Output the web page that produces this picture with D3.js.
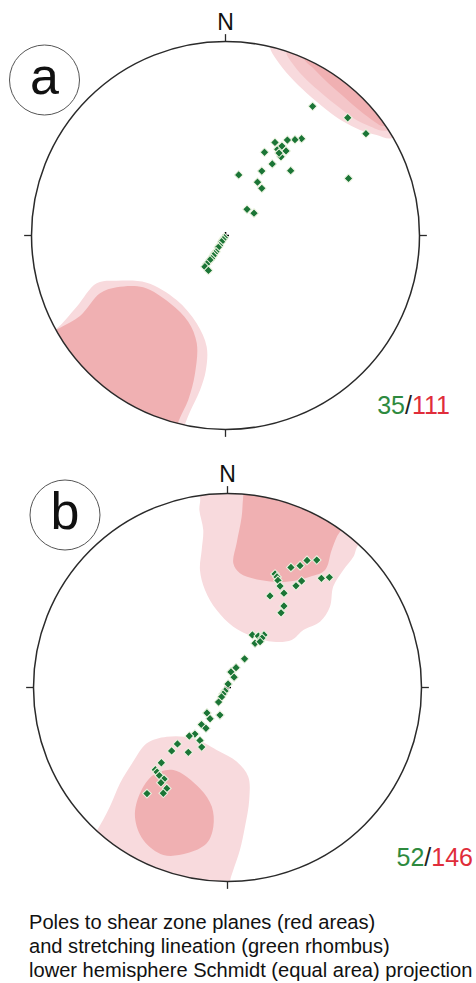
<!DOCTYPE html>
<html>
<head>
<meta charset="utf-8">
<script src="https://cdn.jsdelivr.net/npm/d3@7"></script>
<style>
  html, body { margin: 0; padding: 0; background: #fff; }
  svg { display: block; }
  text { font-family: "Liberation Sans", Arial, sans-serif; }
</style>
</head>
<body>
<svg id="chart" width="476" height="983"></svg>
<script>
// Stereonet coordinates: east (x) and north (y) in units of the primitive circle radius,
// lower-hemisphere equal-area (Schmidt) projection.

// ---- Stereonet a ----
const lineationA = [
  [0.449, 0.666], [0.630, 0.607], [0.724, 0.525], [0.634, 0.294], [0.392, 0.499],
  [0.358, 0.494], [0.319, 0.492], [0.255, 0.480], [0.269, 0.444], [0.291, 0.461],
  [0.312, 0.436], [0.286, 0.406], [0.276, 0.425], [0.201, 0.429], [0.241, 0.369],
  [0.336, 0.334], [0.187, 0.332], [0.068, 0.312], [0.165, 0.275], [0.187, 0.243],
  [0.111, 0.135], [0.147, 0.115], [-0.006, -0.011], [-0.013, -0.021], [-0.020, -0.032],
  [-0.031, -0.052], [-0.037, -0.061], [-0.049, -0.084], [-0.057, -0.093], [-0.063, -0.104],
  [-0.072, -0.119], [-0.080, -0.126], [-0.097, -0.147], [-0.106, -0.161], [-0.088, -0.180]
];
const polesA_NE_low = [
  [0.229, 0.973], [0.264, 0.905], [0.332, 0.819], [0.419, 0.733], [0.522, 0.647],
  [0.607, 0.587], [0.693, 0.544], [0.779, 0.518], [0.857, 0.501],
  [1.0, 0.6], [0.6, 1.0], [0.25, 1.05]
];
const polesA_NE_mid = [
  [0.31, 0.95], [0.35, 0.88], [0.42, 0.80], [0.50, 0.73], [0.58, 0.665],
  [0.66, 0.605], [0.74, 0.565], [0.83, 0.54],
  [1.0, 0.62], [0.62, 1.0], [0.32, 1.05]
];
const polesA_NE_high = [
  [0.40, 0.92], [0.46, 0.855], [0.53, 0.785], [0.61, 0.715], [0.69, 0.645],
  [0.77, 0.585], [0.81, 0.565],
  [1.0, 0.64], [0.66, 0.98], [0.42, 1.04]
];
const polesA_SW_low = [
  [-0.879, -0.487], [-0.767, -0.367], [-0.664, -0.246], [-0.561, -0.233], [-0.406, -0.243],
  [-0.252, -0.332], [-0.148, -0.453], [-0.097, -0.573], [-0.101, -0.693], [-0.131, -0.796],
  [-0.183, -0.908], [-0.209, -0.973],
  [-0.25, -1.1], [-0.75, -0.85], [-1.0, -0.55]
];
const polesA_SW_high = [
  [-0.857, -0.478], [-0.750, -0.415], [-0.647, -0.298], [-0.561, -0.267], [-0.424, -0.267],
  [-0.286, -0.349], [-0.192, -0.444], [-0.148, -0.556], [-0.157, -0.710], [-0.192, -0.848],
  [-0.243, -0.960],
  [-0.28, -1.1], [-0.75, -0.87], [-1.0, -0.56]
];
const countsA = [35, 111];

// ---- Stereonet b ----
const lineationB = [
  [0.460, 0.657], [0.410, 0.655], [0.374, 0.628], [0.327, 0.619], [0.245, 0.585],
  [0.255, 0.570], [0.260, 0.552], [0.271, 0.523], [0.291, 0.486], [0.219, 0.472],
  [0.353, 0.524], [0.382, 0.549], [0.484, 0.563], [0.525, 0.568], [0.291, 0.420],
  [0.276, 0.385], [0.128, 0.271], [0.159, 0.265], [0.188, 0.271], [0.178, 0.255],
  [0.142, 0.228], [0.168, 0.236], [0.088, 0.148], [0.044, 0.102], [0.018, 0.080],
  [0.034, 0.053], [0.003, 0.018], [-0.013, -0.018], [-0.023, -0.034], [-0.031, -0.049],
  [-0.046, -0.075], [-0.106, -0.131], [-0.039, -0.142], [-0.090, -0.161], [-0.134, -0.191],
  [-0.111, -0.210], [-0.168, -0.240], [-0.197, -0.250], [-0.142, -0.273], [-0.133, -0.307],
  [-0.202, -0.334], [-0.258, -0.291], [-0.288, -0.327], [-0.341, -0.388], [-0.372, -0.424],
  [-0.363, -0.436], [-0.351, -0.454], [-0.327, -0.472], [-0.343, -0.491], [-0.313, -0.520],
  [-0.331, -0.545], [-0.415, -0.547]
];
const polesB_N_low = [
  [-0.142, 0.984], [-0.145, 0.915], [-0.125, 0.812], [-0.133, 0.709], [-0.142, 0.606],
  [-0.116, 0.503], [-0.056, 0.399], [0.030, 0.313], [0.133, 0.262], [0.236, 0.236],
  [0.331, 0.245], [0.391, 0.296], [0.477, 0.339], [0.528, 0.416], [0.545, 0.520],
  [0.597, 0.606], [0.649, 0.674], [0.674, 0.735],
  [0.8, 0.85], [0.3, 1.15], [-0.2, 1.1]
];
const polesB_N_high = [
  [0.081, 0.984], [0.073, 0.880], [0.047, 0.743], [0.030, 0.640], [0.064, 0.589],
  [0.168, 0.554], [0.305, 0.545], [0.425, 0.571], [0.503, 0.606], [0.537, 0.709],
  [0.580, 0.803],
  [0.7, 0.9], [0.1, 1.1]
];
const polesB_S_low = [
  [-0.68, -0.75], [-0.606, -0.614], [-0.554, -0.494], [-0.486, -0.382], [-0.416, -0.288],
  [-0.313, -0.254], [-0.176, -0.262], [-0.056, -0.322], [0.047, -0.382], [0.107, -0.460],
  [0.112, -0.580], [0.090, -0.718], [0.064, -0.838], [0.030, -0.941], [0.013, -1.001],
  [0.02, -1.12], [-0.4, -1.1], [-0.75, -0.85]
];
const polesB_S_high = [
  [-0.279, -0.425], [-0.142, -0.520], [-0.081, -0.614], [-0.073, -0.718], [-0.107, -0.803],
  [-0.210, -0.855], [-0.331, -0.863], [-0.434, -0.786], [-0.477, -0.666], [-0.451, -0.545],
  [-0.382, -0.451]
];
const countsB = [52, 146];

const captionLines = [
  "Poles to shear zone planes (red areas)",
  "and stretching lineation (green rhombus)",
  "lower hemisphere Schmidt (equal area) projection"
];

const COLORS = {
  low: "#f8dadd",
  mid: "#f4c6c9",
  high: "#f0b0b2",
  lineation: "#1b7536",
  lineationEdge: "#eef4e2",
  rim: "#2a2a2a",
  green: "#2e8a3e",
  red: "#e02d3a"
};

const svg = d3.select("#chart");

function stereonet(opts) {
  const { id, cx, cy, R, label, labelPos, contours, lineation, counts, countPos } = opts;
  const x = d3.scaleLinear().domain([-1, 1]).range([cx - R, cx + R]);
  const y = d3.scaleLinear().domain([-1, 1]).range([cy + R, cy - R]);
  const g = svg.append("g");

  // clip for density areas
  svg.append("defs").append("clipPath").attr("id", "clip-" + id)
    .append("circle").attr("cx", x(0)).attr("cy", y(0)).attr("r", x(1) - x(0));

  const area = d3.line()
    .x(d => x(d[0])).y(d => y(d[1]))
    .curve(d3.curveCatmullRomClosed.alpha(0.5));

  const cg = g.append("g").attr("clip-path", `url(#clip-${id})`);
  cg.selectAll("path").data(contours).join("path")
    .attr("d", d => area(d.pts))
    .attr("fill", d => COLORS[d.level])
    .attr("stroke", "none");

  // primitive circle
  g.append("circle")
    .attr("cx", x(0)).attr("cy", y(0)).attr("r", x(1) - x(0))
    .attr("fill", "none").attr("stroke", COLORS.rim).attr("stroke-width", 1.5);

  // cardinal ticks
  const ticks = [[0, 1], [1, 0], [0, -1], [-1, 0]];
  g.selectAll("line.tick").data(ticks).join("line")
    .attr("class", "tick")
    .attr("x1", d => x(d[0])).attr("y1", d => y(d[1]))
    .attr("x2", d => x(d[0] * 1.038)).attr("y2", d => y(d[1] * 1.038))
    .attr("stroke", COLORS.rim).attr("stroke-width", 1.3);

  g.append("text")
    .attr("x", x(0)).attr("y", y(1.0) - 12)
    .attr("text-anchor", "middle")
    .attr("font-size", 23).attr("fill", "#111")
    .text("N");

  // centre mark
  g.append("path")
    .attr("d", `M${x(0) - 3.5},${y(0)}h7M${x(0)},${y(0) - 3.5}v7`)
    .attr("stroke", "#000").attr("stroke-width", 1.6);

  // lineation rhombi
  const sym = d3.symbol(d3.symbolSquare, 38);
  g.selectAll("path.lin").data(lineation).join("path")
    .attr("class", "lin")
    .attr("d", sym)
    .attr("transform", d => `translate(${x(d[0])},${y(d[1])}) rotate(45)`)
    .attr("fill", COLORS.lineation)
    .attr("stroke", COLORS.lineationEdge)
    .attr("stroke-width", 1);

  // panel label
  g.append("circle")
    .attr("cx", labelPos[0]).attr("cy", labelPos[1]).attr("r", 35)
    .attr("fill", "#fff").attr("stroke", "#555").attr("stroke-width", 1);
  g.append("text")
    .attr("x", labelPos[0]).attr("y", labelPos[1] + 14)
    .attr("text-anchor", "middle")
    .attr("font-size", 52).attr("fill", "#111")
    .text(label);

  // counts: lineations / poles
  const t = g.append("text")
    .attr("x", countPos[0]).attr("y", countPos[1])
    .attr("text-anchor", "end")
    .attr("font-size", 25);
  t.append("tspan").attr("fill", COLORS.green).text(counts[0]);
  t.append("tspan").attr("fill", "#222").text("/");
  t.append("tspan").attr("fill", COLORS.red).text(counts[1]);
}

stereonet({
  id: "a", cx: 225.5, cy: 235.5, R: 194,
  label: "a", labelPos: [44.5, 80],
  contours: [
    { level: "low", pts: polesA_NE_low },
    { level: "mid", pts: polesA_NE_mid },
    { level: "high", pts: polesA_NE_high },
    { level: "low", pts: polesA_SW_low },
    { level: "high", pts: polesA_SW_high }
  ],
  lineation: lineationA,
  counts: countsA, countPos: [450, 414]
});

stereonet({
  id: "b", cx: 227.5, cy: 687.5, R: 194,
  label: "b", labelPos: [65, 515],
  contours: [
    { level: "low", pts: polesB_N_low },
    { level: "high", pts: polesB_N_high },
    { level: "low", pts: polesB_S_low },
    { level: "high", pts: polesB_S_high }
  ],
  lineation: lineationB,
  counts: countsB, countPos: [473, 866]
});

svg.append("g").selectAll("text").data(captionLines).join("text")
  .attr("x", 29)
  .attr("y", (d, i) => 928.5 + i * 24)
  .attr("font-size", 20.1)
  .attr("fill", "#111")
  .text(d => d);
</script>
</body>
</html>
